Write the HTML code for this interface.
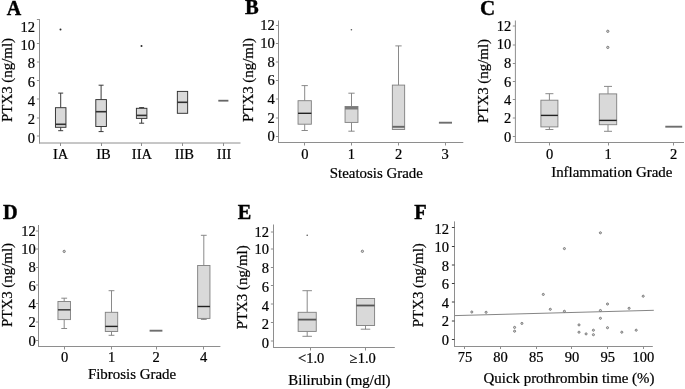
<!DOCTYPE html>
<html><head><meta charset="utf-8"><title>Figure</title>
<style>
html,body{margin:0;padding:0;background:#fff;}
svg{display:block;will-change:transform;filter:grayscale(1);font-family:"Liberation Serif",serif;fill:#000;}
text{stroke:#000;stroke-width:0.22px;}
</style></head><body>
<svg width="685" height="389" viewBox="0 0 685 389">
<rect x="0" y="0" width="685" height="389" fill="#ffffff"/>
<text x="6.7" y="14.9" font-size="20" text-anchor="start" font-weight="bold" style="stroke-width:0.4px">A</text>
<line x1="39.5" y1="19" x2="39.5" y2="143.5" stroke="#8e8e8e" stroke-width="1"/>
<line x1="39.0" y1="143" x2="240.5" y2="143" stroke="#8e8e8e" stroke-width="1"/>
<line x1="36.9" y1="136.0" x2="39.5" y2="136.0" stroke="#8e8e8e" stroke-width="1"/>
<text x="35" y="142.65" font-size="14.5" text-anchor="end" font-weight="normal" >0</text>
<line x1="36.9" y1="118.0" x2="39.5" y2="118.0" stroke="#8e8e8e" stroke-width="1"/>
<text x="35" y="123.85" font-size="14.5" text-anchor="end" font-weight="normal" >2</text>
<line x1="36.9" y1="99.0" x2="39.5" y2="99.0" stroke="#8e8e8e" stroke-width="1"/>
<text x="35" y="105.85" font-size="14.5" text-anchor="end" font-weight="normal" >4</text>
<line x1="36.9" y1="80.5" x2="39.5" y2="80.5" stroke="#8e8e8e" stroke-width="1"/>
<text x="35" y="87.45" font-size="14.5" text-anchor="end" font-weight="normal" >6</text>
<line x1="36.9" y1="62.0" x2="39.5" y2="62.0" stroke="#8e8e8e" stroke-width="1"/>
<text x="35" y="68.45" font-size="14.5" text-anchor="end" font-weight="normal" >8</text>
<line x1="36.9" y1="43.5" x2="39.5" y2="43.5" stroke="#8e8e8e" stroke-width="1"/>
<text x="35" y="49.95" font-size="14.5" text-anchor="end" font-weight="normal" >10</text>
<line x1="36.9" y1="19.5" x2="39.5" y2="19.5" stroke="#8e8e8e" stroke-width="1"/>
<text x="35" y="31.95" font-size="14.5" text-anchor="end" font-weight="normal" >12</text>
<text transform="translate(11.5,80) rotate(-90)" font-size="14.9" text-anchor="middle">PTX3 (ng/ml)</text>
<line x1="60.5" y1="143" x2="60.5" y2="146" stroke="#8e8e8e" stroke-width="1"/>
<text x="60.6" y="158.6" font-size="14.5" text-anchor="middle" font-weight="normal" >IA</text>
<line x1="101.5" y1="143" x2="101.5" y2="146" stroke="#8e8e8e" stroke-width="1"/>
<text x="103.5" y="158.6" font-size="14.5" text-anchor="middle" font-weight="normal" >IB</text>
<line x1="141.5" y1="143" x2="141.5" y2="146" stroke="#8e8e8e" stroke-width="1"/>
<text x="141.9" y="158.6" font-size="14.5" text-anchor="middle" font-weight="normal" >IIA</text>
<line x1="182.5" y1="143" x2="182.5" y2="146" stroke="#8e8e8e" stroke-width="1"/>
<text x="184.3" y="158.6" font-size="14.5" text-anchor="middle" font-weight="normal" >IIB</text>
<line x1="223.5" y1="143" x2="223.5" y2="146" stroke="#8e8e8e" stroke-width="1"/>
<text x="224.1" y="158.6" font-size="14.5" text-anchor="middle" font-weight="normal" >III</text>
<text x="0" y="0" font-size="14.9" text-anchor="middle" font-weight="normal" ></text>
<line x1="60.7" y1="93.1" x2="60.7" y2="107.7" stroke="#303030" stroke-width="0.95"/>
<line x1="58.2" y1="93.1" x2="63.2" y2="93.1" stroke="#303030" stroke-width="0.95"/>
<line x1="60.7" y1="127.3" x2="60.7" y2="130.7" stroke="#303030" stroke-width="0.95"/>
<line x1="58.2" y1="130.7" x2="63.2" y2="130.7" stroke="#303030" stroke-width="0.95"/>
<rect x="55.45" y="107.7" width="10.5" height="19.599999999999994" fill="#d9d9d9" stroke="#303030" stroke-width="0.95"/>
<line x1="55.45" y1="124.3" x2="65.95" y2="124.3" stroke="#303030" stroke-width="1.6"/>
<circle cx="60.5" cy="29.5" r="1.0" fill="#2a2a2a"/>
<line x1="101.1" y1="85.2" x2="101.1" y2="99.6" stroke="#303030" stroke-width="0.95"/>
<line x1="98.6" y1="85.2" x2="103.6" y2="85.2" stroke="#303030" stroke-width="0.95"/>
<line x1="101.1" y1="126.5" x2="101.1" y2="131.6" stroke="#303030" stroke-width="0.95"/>
<line x1="98.6" y1="131.6" x2="103.6" y2="131.6" stroke="#303030" stroke-width="0.95"/>
<rect x="95.8" y="99.6" width="10.6" height="26.900000000000006" fill="#d9d9d9" stroke="#303030" stroke-width="0.95"/>
<line x1="95.8" y1="111.7" x2="106.39999999999999" y2="111.7" stroke="#303030" stroke-width="1.6"/>
<line x1="141.65" y1="107.6" x2="141.65" y2="108.3" stroke="#303030" stroke-width="0.95"/>
<line x1="139.15" y1="107.6" x2="144.15" y2="107.6" stroke="#303030" stroke-width="0.95"/>
<line x1="141.65" y1="118.4" x2="141.65" y2="123.2" stroke="#303030" stroke-width="0.95"/>
<line x1="139.15" y1="123.2" x2="144.15" y2="123.2" stroke="#303030" stroke-width="0.95"/>
<rect x="136.4" y="108.3" width="10.5" height="10.100000000000009" fill="#d9d9d9" stroke="#303030" stroke-width="0.95"/>
<line x1="136.4" y1="115.4" x2="146.9" y2="115.4" stroke="#303030" stroke-width="1.6"/>
<circle cx="141.5" cy="46.1" r="1.0" fill="#2a2a2a"/>
<rect x="177.35" y="91.4" width="10.3" height="21.89999999999999" fill="#d9d9d9" stroke="#303030" stroke-width="0.95"/>
<line x1="177.35" y1="102.3" x2="187.65" y2="102.3" stroke="#303030" stroke-width="1.6"/>
<line x1="218.3" y1="100.7" x2="228.4" y2="100.7" stroke="#666" stroke-width="1.8"/>
<text x="244.9" y="14.0" font-size="20.6" text-anchor="start" font-weight="bold" style="stroke-width:0.4px">B</text>
<line x1="278.5" y1="20.5" x2="278.5" y2="143.0" stroke="#8e8e8e" stroke-width="1"/>
<line x1="278.0" y1="142.5" x2="463.3" y2="142.5" stroke="#8e8e8e" stroke-width="1"/>
<line x1="275.9" y1="136.5" x2="278.5" y2="136.5" stroke="#8e8e8e" stroke-width="1"/>
<text x="274.7" y="141.05" font-size="14.5" text-anchor="end" font-weight="normal" >0</text>
<line x1="275.9" y1="118.0" x2="278.5" y2="118.0" stroke="#8e8e8e" stroke-width="1"/>
<text x="274.7" y="122.65" font-size="14.5" text-anchor="end" font-weight="normal" >2</text>
<line x1="275.9" y1="99.0" x2="278.5" y2="99.0" stroke="#8e8e8e" stroke-width="1"/>
<text x="274.7" y="103.95" font-size="14.5" text-anchor="end" font-weight="normal" >4</text>
<line x1="275.9" y1="80.5" x2="278.5" y2="80.5" stroke="#8e8e8e" stroke-width="1"/>
<text x="274.7" y="85.35" font-size="14.5" text-anchor="end" font-weight="normal" >6</text>
<line x1="275.9" y1="62.0" x2="278.5" y2="62.0" stroke="#8e8e8e" stroke-width="1"/>
<text x="274.7" y="66.75" font-size="14.5" text-anchor="end" font-weight="normal" >8</text>
<line x1="275.9" y1="43.5" x2="278.5" y2="43.5" stroke="#8e8e8e" stroke-width="1"/>
<text x="274.7" y="48.15" font-size="14.5" text-anchor="end" font-weight="normal" >10</text>
<line x1="275.9" y1="25.5" x2="278.5" y2="25.5" stroke="#8e8e8e" stroke-width="1"/>
<text x="274.7" y="30.05" font-size="14.5" text-anchor="end" font-weight="normal" >12</text>
<text transform="translate(253.2,80) rotate(-90)" font-size="14.9" text-anchor="middle">PTX3 (ng/ml)</text>
<line x1="304.5" y1="142.5" x2="304.5" y2="145.5" stroke="#8e8e8e" stroke-width="1"/>
<text x="304.8" y="159.4" font-size="14.5" text-anchor="middle" font-weight="normal" >0</text>
<line x1="351.5" y1="142.5" x2="351.5" y2="145.5" stroke="#8e8e8e" stroke-width="1"/>
<text x="351.4" y="159.4" font-size="14.5" text-anchor="middle" font-weight="normal" >1</text>
<line x1="398.5" y1="142.5" x2="398.5" y2="145.5" stroke="#8e8e8e" stroke-width="1"/>
<text x="398.6" y="159.4" font-size="14.5" text-anchor="middle" font-weight="normal" >2</text>
<line x1="445.5" y1="142.5" x2="445.5" y2="145.5" stroke="#8e8e8e" stroke-width="1"/>
<text x="445.2" y="159.4" font-size="14.5" text-anchor="middle" font-weight="normal" >3</text>
<text x="376.3" y="177.7" font-size="14.9" text-anchor="middle" font-weight="normal" >Steatosis Grade</text>
<line x1="304.7" y1="85.6" x2="304.7" y2="100.7" stroke="#808080" stroke-width="0.92"/>
<line x1="301.55" y1="85.6" x2="307.84999999999997" y2="85.6" stroke="#808080" stroke-width="0.92"/>
<line x1="304.7" y1="124.2" x2="304.7" y2="130.5" stroke="#808080" stroke-width="0.92"/>
<line x1="301.55" y1="130.5" x2="307.84999999999997" y2="130.5" stroke="#808080" stroke-width="0.92"/>
<rect x="298.05" y="100.7" width="13.3" height="23.5" fill="#d9d9d9" stroke="#808080" stroke-width="0.92"/>
<line x1="298.05" y1="113.3" x2="311.34999999999997" y2="113.3" stroke="#222" stroke-width="1.4"/>
<line x1="351.5" y1="93.2" x2="351.5" y2="106.5" stroke="#808080" stroke-width="0.92"/>
<line x1="348.35" y1="93.2" x2="354.65" y2="93.2" stroke="#808080" stroke-width="0.92"/>
<line x1="351.5" y1="122.4" x2="351.5" y2="131.2" stroke="#808080" stroke-width="0.92"/>
<line x1="348.35" y1="131.2" x2="354.65" y2="131.2" stroke="#808080" stroke-width="0.92"/>
<rect x="345.05" y="106.5" width="12.9" height="15.900000000000006" fill="#d9d9d9" stroke="#808080" stroke-width="0.92"/>
<line x1="345.05" y1="108.0" x2="357.95" y2="108.0" stroke="#7a7a7a" stroke-width="3.0"/>
<circle cx="351.4" cy="29.7" r="0.8" fill="#555"/>
<line x1="398.5" y1="45.9" x2="398.5" y2="85.1" stroke="#808080" stroke-width="0.92"/>
<line x1="395.35" y1="45.9" x2="401.65" y2="45.9" stroke="#808080" stroke-width="0.92"/>
<rect x="392.35" y="85.1" width="12.3" height="44.400000000000006" fill="#d9d9d9" stroke="#808080" stroke-width="0.92"/>
<line x1="392.35" y1="126.8" x2="404.65" y2="126.8" stroke="#666" stroke-width="1.9"/>
<line x1="438.9" y1="122.7" x2="452" y2="122.7" stroke="#6e6e6e" stroke-width="1.9"/>
<text x="480.0" y="14.7" font-size="21" text-anchor="start" font-weight="bold" style="stroke-width:0.4px">C</text>
<line x1="515.4" y1="20.5" x2="515.4" y2="143.0" stroke="#8e8e8e" stroke-width="1"/>
<line x1="514.9" y1="142.5" x2="684" y2="142.5" stroke="#8e8e8e" stroke-width="1"/>
<line x1="512.8" y1="136.5" x2="515.4" y2="136.5" stroke="#8e8e8e" stroke-width="1"/>
<text x="511.3" y="142.05" font-size="14.5" text-anchor="end" font-weight="normal" >0</text>
<line x1="512.8" y1="118.0" x2="515.4" y2="118.0" stroke="#8e8e8e" stroke-width="1"/>
<text x="511.3" y="123.45" font-size="14.5" text-anchor="end" font-weight="normal" >2</text>
<line x1="512.8" y1="99.5" x2="515.4" y2="99.5" stroke="#8e8e8e" stroke-width="1"/>
<text x="511.3" y="105.45" font-size="14.5" text-anchor="end" font-weight="normal" >4</text>
<line x1="512.8" y1="81.5" x2="515.4" y2="81.5" stroke="#8e8e8e" stroke-width="1"/>
<text x="511.3" y="87.15" font-size="14.5" text-anchor="end" font-weight="normal" >6</text>
<line x1="512.8" y1="63.5" x2="515.4" y2="63.5" stroke="#8e8e8e" stroke-width="1"/>
<text x="511.3" y="67.75" font-size="14.5" text-anchor="end" font-weight="normal" >8</text>
<line x1="512.8" y1="45.0" x2="515.4" y2="45.0" stroke="#8e8e8e" stroke-width="1"/>
<text x="511.3" y="49.45" font-size="14.5" text-anchor="end" font-weight="normal" >10</text>
<line x1="512.8" y1="26.0" x2="515.4" y2="26.0" stroke="#8e8e8e" stroke-width="1"/>
<text x="511.3" y="31.35" font-size="14.5" text-anchor="end" font-weight="normal" >12</text>
<text transform="translate(487.5,81) rotate(-90)" font-size="14.9" text-anchor="middle">PTX3 (ng/ml)</text>
<line x1="549.5" y1="142.5" x2="549.5" y2="145.5" stroke="#8e8e8e" stroke-width="1"/>
<text x="549.5" y="159.4" font-size="14.5" text-anchor="middle" font-weight="normal" >0</text>
<line x1="608.5" y1="142.5" x2="608.5" y2="145.5" stroke="#8e8e8e" stroke-width="1"/>
<text x="608" y="159.4" font-size="14.5" text-anchor="middle" font-weight="normal" >1</text>
<line x1="673.5" y1="142.5" x2="673.5" y2="145.5" stroke="#8e8e8e" stroke-width="1"/>
<text x="673.5" y="159.4" font-size="14.5" text-anchor="middle" font-weight="normal" >2</text>
<text x="611.8" y="177.3" font-size="14.9" text-anchor="middle" font-weight="normal" >Inflammation Grade</text>
<line x1="549.4" y1="93.7" x2="549.4" y2="100.2" stroke="#808080" stroke-width="0.92"/>
<line x1="545.4" y1="93.7" x2="553.4" y2="93.7" stroke="#808080" stroke-width="0.92"/>
<line x1="549.4" y1="126.9" x2="549.4" y2="129.5" stroke="#808080" stroke-width="0.92"/>
<line x1="545.4" y1="129.5" x2="553.4" y2="129.5" stroke="#808080" stroke-width="0.92"/>
<rect x="540.9" y="100.2" width="17" height="26.700000000000003" fill="#d9d9d9" stroke="#808080" stroke-width="0.92"/>
<line x1="540.9" y1="115.4" x2="557.9" y2="115.4" stroke="#222" stroke-width="1.4"/>
<line x1="608" y1="86.4" x2="608" y2="93.9" stroke="#808080" stroke-width="0.92"/>
<line x1="604.0" y1="86.4" x2="612.0" y2="86.4" stroke="#808080" stroke-width="0.92"/>
<line x1="608" y1="124.7" x2="608" y2="131.3" stroke="#808080" stroke-width="0.92"/>
<line x1="604.0" y1="131.3" x2="612.0" y2="131.3" stroke="#808080" stroke-width="0.92"/>
<rect x="599.3" y="93.9" width="17.4" height="30.799999999999997" fill="#d9d9d9" stroke="#808080" stroke-width="0.92"/>
<line x1="599.3" y1="120.4" x2="616.7" y2="120.4" stroke="#222" stroke-width="1.4"/>
<circle cx="607.8" cy="31.3" r="1.15" fill="#d8d8d8" stroke="#6a6a6a" stroke-width="0.85"/>
<circle cx="607.8" cy="47.4" r="1.15" fill="#d8d8d8" stroke="#6a6a6a" stroke-width="0.85"/>
<line x1="665.3" y1="126.7" x2="682.2" y2="126.7" stroke="#6e6e6e" stroke-width="1.9"/>
<text x="2.9" y="218.8" font-size="20.3" text-anchor="start" font-weight="bold" style="stroke-width:0.4px">D</text>
<line x1="38.5" y1="225" x2="38.5" y2="347.0" stroke="#8e8e8e" stroke-width="1"/>
<line x1="38.0" y1="346.5" x2="220.4" y2="346.5" stroke="#8e8e8e" stroke-width="1"/>
<line x1="35.9" y1="340.5" x2="38.5" y2="340.5" stroke="#8e8e8e" stroke-width="1"/>
<text x="35.7" y="345.85" font-size="14.5" text-anchor="end" font-weight="normal" >0</text>
<line x1="35.9" y1="322.0" x2="38.5" y2="322.0" stroke="#8e8e8e" stroke-width="1"/>
<text x="35.7" y="327.35" font-size="14.5" text-anchor="end" font-weight="normal" >2</text>
<line x1="35.9" y1="303.5" x2="38.5" y2="303.5" stroke="#8e8e8e" stroke-width="1"/>
<text x="35.7" y="309.35" font-size="14.5" text-anchor="end" font-weight="normal" >4</text>
<line x1="35.9" y1="285.0" x2="38.5" y2="285.0" stroke="#8e8e8e" stroke-width="1"/>
<text x="35.7" y="290.95" font-size="14.5" text-anchor="end" font-weight="normal" >6</text>
<line x1="35.9" y1="267.5" x2="38.5" y2="267.5" stroke="#8e8e8e" stroke-width="1"/>
<text x="35.7" y="271.95" font-size="14.5" text-anchor="end" font-weight="normal" >8</text>
<line x1="35.9" y1="249.0" x2="38.5" y2="249.0" stroke="#8e8e8e" stroke-width="1"/>
<text x="35.7" y="253.85" font-size="14.5" text-anchor="end" font-weight="normal" >10</text>
<line x1="35.9" y1="231.0" x2="38.5" y2="231.0" stroke="#8e8e8e" stroke-width="1"/>
<text x="35.7" y="235.85" font-size="14.5" text-anchor="end" font-weight="normal" >12</text>
<text transform="translate(11.5,285) rotate(-90)" font-size="14.9" text-anchor="middle">PTX3 (ng/ml)</text>
<line x1="64.5" y1="346.5" x2="64.5" y2="349.5" stroke="#8e8e8e" stroke-width="1"/>
<text x="64.5" y="362.2" font-size="14.5" text-anchor="middle" font-weight="normal" >0</text>
<line x1="111.5" y1="346.5" x2="111.5" y2="349.5" stroke="#8e8e8e" stroke-width="1"/>
<text x="111.5" y="362.2" font-size="14.5" text-anchor="middle" font-weight="normal" >1</text>
<line x1="156.5" y1="346.5" x2="156.5" y2="349.5" stroke="#8e8e8e" stroke-width="1"/>
<text x="156.1" y="362.2" font-size="14.5" text-anchor="middle" font-weight="normal" >2</text>
<line x1="203.5" y1="346.5" x2="203.5" y2="349.5" stroke="#8e8e8e" stroke-width="1"/>
<text x="203.5" y="362.2" font-size="14.5" text-anchor="middle" font-weight="normal" >4</text>
<text x="132" y="379.4" font-size="14.9" text-anchor="middle" font-weight="normal" >Fibrosis Grade</text>
<line x1="64.2" y1="298.2" x2="64.2" y2="301.5" stroke="#808080" stroke-width="0.92"/>
<line x1="61.300000000000004" y1="298.2" x2="67.10000000000001" y2="298.2" stroke="#808080" stroke-width="0.92"/>
<line x1="64.2" y1="319.6" x2="64.2" y2="328.5" stroke="#808080" stroke-width="0.92"/>
<line x1="61.300000000000004" y1="328.5" x2="67.10000000000001" y2="328.5" stroke="#808080" stroke-width="0.92"/>
<rect x="57.95" y="301.5" width="12.5" height="18.100000000000023" fill="#d9d9d9" stroke="#808080" stroke-width="0.92"/>
<line x1="57.95" y1="309.8" x2="70.45" y2="309.8" stroke="#444" stroke-width="1.6"/>
<circle cx="64.2" cy="251.4" r="1.15" fill="#d8d8d8" stroke="#6a6a6a" stroke-width="0.85"/>
<line x1="111.5" y1="290.7" x2="111.5" y2="312.3" stroke="#808080" stroke-width="0.92"/>
<line x1="108.6" y1="290.7" x2="114.4" y2="290.7" stroke="#808080" stroke-width="0.92"/>
<line x1="111.5" y1="331.5" x2="111.5" y2="335.3" stroke="#808080" stroke-width="0.92"/>
<line x1="108.6" y1="335.3" x2="114.4" y2="335.3" stroke="#808080" stroke-width="0.92"/>
<rect x="105.3" y="312.3" width="12.4" height="19.19999999999999" fill="#d9d9d9" stroke="#808080" stroke-width="0.92"/>
<line x1="105.3" y1="326.4" x2="117.7" y2="326.4" stroke="#222" stroke-width="1.4"/>
<line x1="149.6" y1="330.7" x2="162.4" y2="330.7" stroke="#6e6e6e" stroke-width="1.9"/>
<line x1="203.8" y1="235.3" x2="203.8" y2="265.5" stroke="#808080" stroke-width="0.92"/>
<line x1="200.9" y1="235.3" x2="206.70000000000002" y2="235.3" stroke="#808080" stroke-width="0.92"/>
<line x1="203.8" y1="318.4" x2="203.8" y2="319.4" stroke="#808080" stroke-width="0.92"/>
<line x1="200.9" y1="319.4" x2="206.70000000000002" y2="319.4" stroke="#808080" stroke-width="0.92"/>
<rect x="197.65" y="265.5" width="12.3" height="52.89999999999998" fill="#d9d9d9" stroke="#808080" stroke-width="0.92"/>
<line x1="197.65" y1="306.5" x2="209.95000000000002" y2="306.5" stroke="#222" stroke-width="1.4"/>
<text x="237.7" y="218.8" font-size="20.3" text-anchor="start" font-weight="bold" style="stroke-width:0.4px">E</text>
<line x1="273.5" y1="224.5" x2="273.5" y2="348.0" stroke="#8e8e8e" stroke-width="1"/>
<line x1="273.0" y1="347.5" x2="394.8" y2="347.5" stroke="#8e8e8e" stroke-width="1"/>
<line x1="270.9" y1="341.0" x2="273.5" y2="341.0" stroke="#8e8e8e" stroke-width="1"/>
<text x="269" y="347.95" font-size="14.5" text-anchor="end" font-weight="normal" >0</text>
<line x1="270.9" y1="322.5" x2="273.5" y2="322.5" stroke="#8e8e8e" stroke-width="1"/>
<text x="269" y="329.35" font-size="14.5" text-anchor="end" font-weight="normal" >2</text>
<line x1="270.9" y1="304.0" x2="273.5" y2="304.0" stroke="#8e8e8e" stroke-width="1"/>
<text x="269" y="311.45" font-size="14.5" text-anchor="end" font-weight="normal" >4</text>
<line x1="270.9" y1="285.5" x2="273.5" y2="285.5" stroke="#8e8e8e" stroke-width="1"/>
<text x="269" y="292.25" font-size="14.5" text-anchor="end" font-weight="normal" >6</text>
<line x1="270.9" y1="267.5" x2="273.5" y2="267.5" stroke="#8e8e8e" stroke-width="1"/>
<text x="269" y="273.05" font-size="14.5" text-anchor="end" font-weight="normal" >8</text>
<line x1="270.9" y1="249.0" x2="273.5" y2="249.0" stroke="#8e8e8e" stroke-width="1"/>
<text x="269" y="254.15" font-size="14.5" text-anchor="end" font-weight="normal" >10</text>
<line x1="270.9" y1="232.0" x2="273.5" y2="232.0" stroke="#8e8e8e" stroke-width="1"/>
<text x="269" y="236.65" font-size="14.5" text-anchor="end" font-weight="normal" >12</text>
<text transform="translate(246.5,287.3) rotate(-90)" font-size="14.9" text-anchor="middle">PTX3 (ng/ml)</text>
<line x1="310.5" y1="347.5" x2="310.5" y2="350.5" stroke="#8e8e8e" stroke-width="1"/>
<text x="311.2" y="363.2" font-size="14.5" text-anchor="middle" font-weight="normal" >&lt;1.0</text>
<line x1="365.5" y1="347.5" x2="365.5" y2="350.5" stroke="#8e8e8e" stroke-width="1"/>
<text x="362.8" y="363.2" font-size="14.5" text-anchor="middle" font-weight="normal" >≥1.0</text>
<text x="339.4" y="384.6" font-size="14.9" text-anchor="middle" font-weight="normal" >Bilirubin (mg/dl)</text>
<line x1="307.2" y1="290.7" x2="307.2" y2="312.3" stroke="#808080" stroke-width="0.92"/>
<line x1="302.45" y1="290.7" x2="311.95" y2="290.7" stroke="#808080" stroke-width="0.92"/>
<line x1="307.2" y1="331.4" x2="307.2" y2="336.3" stroke="#808080" stroke-width="0.92"/>
<line x1="302.45" y1="336.3" x2="311.95" y2="336.3" stroke="#808080" stroke-width="0.92"/>
<rect x="298.15" y="312.3" width="18.1" height="19.099999999999966" fill="#d9d9d9" stroke="#808080" stroke-width="0.92"/>
<line x1="298.15" y1="319.6" x2="316.25" y2="319.6" stroke="#555" stroke-width="1.8"/>
<circle cx="307.2" cy="235.3" r="0.8" fill="#555"/>
<line x1="365.5" y1="325.5" x2="365.5" y2="329.2" stroke="#808080" stroke-width="0.92"/>
<line x1="360.75" y1="329.2" x2="370.25" y2="329.2" stroke="#808080" stroke-width="0.92"/>
<rect x="356.4" y="298.5" width="18.2" height="27.0" fill="#d9d9d9" stroke="#808080" stroke-width="0.92"/>
<line x1="356.4" y1="305.5" x2="374.6" y2="305.5" stroke="#555" stroke-width="1.8"/>
<circle cx="362.4" cy="251.3" r="1.15" fill="#d8d8d8" stroke="#6a6a6a" stroke-width="0.85"/>
<text x="414.3" y="218.8" font-size="20.3" text-anchor="start" font-weight="bold" style="stroke-width:0.4px">F</text>
<line x1="454.5" y1="221.4" x2="454.5" y2="347.0" stroke="#8e8e8e" stroke-width="1"/>
<line x1="454.0" y1="346.5" x2="652.8" y2="346.5" stroke="#8e8e8e" stroke-width="1"/>
<line x1="451.9" y1="339.5" x2="454.5" y2="339.5" stroke="#3a3a3a" stroke-width="1"/>
<text x="449.1" y="345.35" font-size="14.5" text-anchor="end" font-weight="normal" >0</text>
<line x1="451.9" y1="321.0" x2="454.5" y2="321.0" stroke="#3a3a3a" stroke-width="1"/>
<text x="449.1" y="326.45" font-size="14.5" text-anchor="end" font-weight="normal" >2</text>
<line x1="451.9" y1="302.0" x2="454.5" y2="302.0" stroke="#3a3a3a" stroke-width="1"/>
<text x="449.1" y="307.55" font-size="14.5" text-anchor="end" font-weight="normal" >4</text>
<line x1="451.9" y1="283.5" x2="454.5" y2="283.5" stroke="#3a3a3a" stroke-width="1"/>
<text x="449.1" y="289.05" font-size="14.5" text-anchor="end" font-weight="normal" >6</text>
<line x1="451.9" y1="265.0" x2="454.5" y2="265.0" stroke="#3a3a3a" stroke-width="1"/>
<text x="449.1" y="270.75" font-size="14.5" text-anchor="end" font-weight="normal" >8</text>
<line x1="451.9" y1="246.5" x2="454.5" y2="246.5" stroke="#3a3a3a" stroke-width="1"/>
<text x="449.1" y="252.15" font-size="14.5" text-anchor="end" font-weight="normal" >10</text>
<line x1="451.9" y1="227.5" x2="454.5" y2="227.5" stroke="#3a3a3a" stroke-width="1"/>
<text x="449.1" y="233.65" font-size="14.5" text-anchor="end" font-weight="normal" >12</text>
<text transform="translate(423.3,285.2) rotate(-90)" font-size="14.9" text-anchor="middle">PTX3 (ng/ml)</text>
<text x="569" y="382.9" font-size="14.9" text-anchor="middle" font-weight="normal" >Quick prothrombin time (%)</text>
<line x1="464.5" y1="346.5" x2="464.5" y2="349" stroke="#8e8e8e" stroke-width="1"/>
<text x="464.9" y="361.9" font-size="14.5" text-anchor="middle" font-weight="normal" >75</text>
<line x1="500.5" y1="346.5" x2="500.5" y2="349" stroke="#8e8e8e" stroke-width="1"/>
<text x="500.59999999999997" y="361.9" font-size="14.5" text-anchor="middle" font-weight="normal" >80</text>
<line x1="536.5" y1="346.5" x2="536.5" y2="349" stroke="#8e8e8e" stroke-width="1"/>
<text x="536.3000000000001" y="361.9" font-size="14.5" text-anchor="middle" font-weight="normal" >85</text>
<line x1="571.5" y1="346.5" x2="571.5" y2="349" stroke="#8e8e8e" stroke-width="1"/>
<text x="572.0" y="361.9" font-size="14.5" text-anchor="middle" font-weight="normal" >90</text>
<line x1="607.5" y1="346.5" x2="607.5" y2="349" stroke="#8e8e8e" stroke-width="1"/>
<text x="607.7" y="361.9" font-size="14.5" text-anchor="middle" font-weight="normal" >95</text>
<line x1="643.5" y1="346.5" x2="643.5" y2="349" stroke="#8e8e8e" stroke-width="1"/>
<text x="643.4000000000001" y="361.9" font-size="14.5" text-anchor="middle" font-weight="normal" >100</text>
<line x1="454.9" y1="315.6" x2="653.8" y2="310.3" stroke="#777" stroke-width="0.9"/>
<circle cx="471.8" cy="312" r="1.05" fill="#d8d8d8" stroke="#6a6a6a" stroke-width="0.85"/>
<circle cx="486.1" cy="312.3" r="1.05" fill="#d8d8d8" stroke="#6a6a6a" stroke-width="0.85"/>
<circle cx="514.6" cy="327.4" r="1.05" fill="#d8d8d8" stroke="#6a6a6a" stroke-width="0.85"/>
<circle cx="514.6" cy="331.2" r="1.05" fill="#d8d8d8" stroke="#6a6a6a" stroke-width="0.85"/>
<circle cx="521.9" cy="323.4" r="1.05" fill="#d8d8d8" stroke="#6a6a6a" stroke-width="0.85"/>
<circle cx="543.3" cy="294.4" r="1.05" fill="#d8d8d8" stroke="#6a6a6a" stroke-width="0.85"/>
<circle cx="550.3" cy="309.3" r="1.05" fill="#d8d8d8" stroke="#6a6a6a" stroke-width="0.85"/>
<circle cx="564.4" cy="311.3" r="1.05" fill="#d8d8d8" stroke="#6a6a6a" stroke-width="0.85"/>
<circle cx="579" cy="324.9" r="1.05" fill="#d8d8d8" stroke="#6a6a6a" stroke-width="0.85"/>
<circle cx="579" cy="332.2" r="1.05" fill="#d8d8d8" stroke="#6a6a6a" stroke-width="0.85"/>
<circle cx="586.1" cy="333.9" r="1.05" fill="#d8d8d8" stroke="#6a6a6a" stroke-width="0.85"/>
<circle cx="593.4" cy="330.2" r="1.05" fill="#d8d8d8" stroke="#6a6a6a" stroke-width="0.85"/>
<circle cx="593.4" cy="334.7" r="1.05" fill="#d8d8d8" stroke="#6a6a6a" stroke-width="0.85"/>
<circle cx="600.4" cy="310.5" r="1.05" fill="#d8d8d8" stroke="#6a6a6a" stroke-width="0.85"/>
<circle cx="600.4" cy="318.3" r="1.05" fill="#d8d8d8" stroke="#6a6a6a" stroke-width="0.85"/>
<circle cx="607.5" cy="304" r="1.05" fill="#d8d8d8" stroke="#6a6a6a" stroke-width="0.85"/>
<circle cx="607.5" cy="327.7" r="1.05" fill="#d8d8d8" stroke="#6a6a6a" stroke-width="0.85"/>
<circle cx="621.8" cy="332.2" r="1.05" fill="#d8d8d8" stroke="#6a6a6a" stroke-width="0.85"/>
<circle cx="629.1" cy="308.3" r="1.05" fill="#d8d8d8" stroke="#6a6a6a" stroke-width="0.85"/>
<circle cx="636.2" cy="330.2" r="1.05" fill="#d8d8d8" stroke="#6a6a6a" stroke-width="0.85"/>
<circle cx="643.2" cy="296.2" r="1.05" fill="#d8d8d8" stroke="#6a6a6a" stroke-width="0.85"/>
<circle cx="564.4" cy="248.6" r="1.05" fill="#d8d8d8" stroke="#6a6a6a" stroke-width="0.85"/>
<circle cx="600.4" cy="232.8" r="1.05" fill="#d8d8d8" stroke="#6a6a6a" stroke-width="0.85"/>
</svg>
</body></html>
